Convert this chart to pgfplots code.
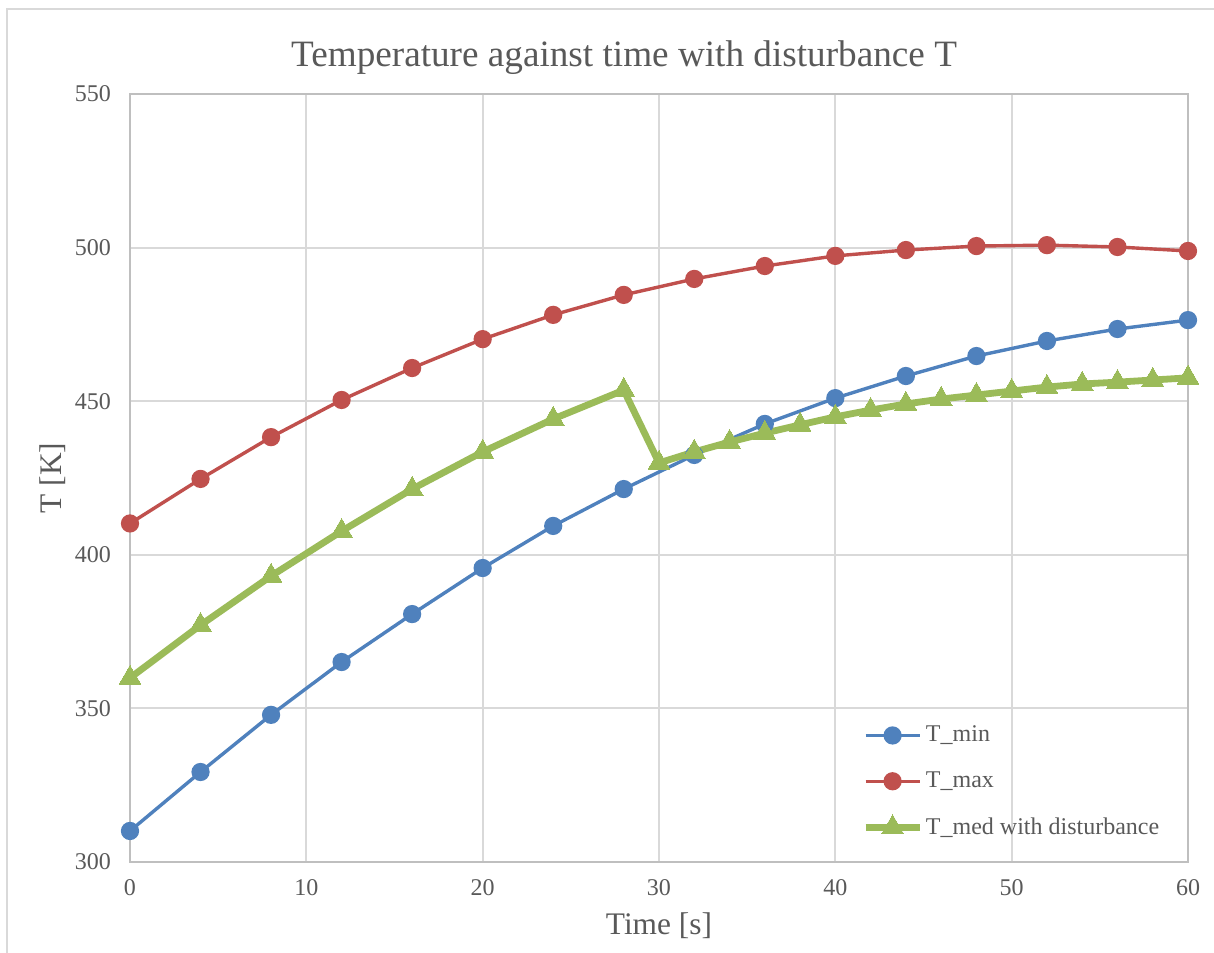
\documentclass[border=0pt]{standalone}
\usepackage{pgfplots}
\pgfplotsset{compat=1.18}
\usepackage{fontspec}
\setmainfont{Liberation Serif}
\definecolor{cblue}{HTML}{4F81BD}
\definecolor{cred}{HTML}{C0504D}
\definecolor{cgreen}{HTML}{9BBB59}
\definecolor{ctext}{HTML}{595959}
\definecolor{cgrid}{HTML}{D9D9D9}
\definecolor{caxis}{HTML}{BFBFBF}
\begin{document}
\begin{tikzpicture}
\useasboundingbox (-65pt,-45pt) rectangle (542pt,431pt);
\draw[cgrid, line width=1pt] (-61.5pt,-50pt) -- (-61.5pt,426.5pt) -- (550pt,426.5pt);
\node[ctext, font=\fontsize{18.6}{22}\selectfont] at (247pt,402pt) {Temperature against time with disturbance T};
\begin{axis}[
  at={(0pt,0pt)}, anchor=south west,
  scale only axis, width=529pt, height=384pt,
  xmin=0, xmax=60, ymin=300, ymax=550,
  xtick={0,10,...,60}, ytick={300,350,...,550},
  major tick length=0pt,
  grid=major,
  major grid style={cgrid, line width=1pt},
  axis line style={caxis, line width=1pt},
  tick label style={ctext, font=\fontsize{12}{14}\selectfont},
  /pgf/number format/assume math mode=true,
  yticklabel style={xshift=-6pt},
  xticklabel style={yshift=-5pt},
  xlabel={Time [s]}, ylabel={T [K]},
  label style={ctext, font=\fontsize{15.7}{18}\selectfont},
  xlabel style={yshift=-2pt},
  ylabel style={yshift=-2pt},
  legend style={draw=none, fill=none, at={(0.686,0.188)}, anchor=north west,
    font=\fontsize{12}{14}\selectfont, text=ctext, row sep=9.5pt,
    legend cell align=left, nodes={inner xsep=1.5pt}},
  legend image code/.code={
    \draw[mark repeat=2,mark phase=2,#1] plot coordinates {(0pt,0pt)(13.5pt,0pt)(27pt,0pt)};
  },
]
\addplot[cblue, line width=1.7pt, mark=*, mark size=3.7pt, mark options={solid}] coordinates {
(0,310.1)(4,329.3)(8,347.9)(12,365.1)(16,380.7)(20,395.7)(24,409.4)(28,421.4)(32,432.5)(36,442.6)(40,451.0)(44,458.2)(48,464.7)(52,469.6)(56,473.5)(60,476.4)};
\addlegendentry{T\_min}
\addplot[cred, line width=1.7pt, mark=*, mark size=3.7pt] coordinates {
(0,410.2)(4,424.7)(8,438.3)(12,450.4)(16,460.8)(20,470.2)(24,478.1)(28,484.6)(32,489.8)(36,494.0)(40,497.3)(44,499.2)(48,500.5)(52,500.8)(56,500.2)(60,498.9)};
\addlegendentry{T\_max}
\addplot[cgreen, line width=3.4pt, mark=triangle*, mark size=6.3pt, mark options={line width=0pt}] coordinates {
(0,359.9)(4,377.1)(8,393.1)(12,407.7)(16,421.4)(20,433.5)(24,444.2)(28,453.6)(30,429.9)(32,433.5)(34,436.7)(36,439.6)(38,442.3)(40,444.9)(42,447.1)(44,449.1)(46,450.7)(48,452.0)(50,453.3)(52,454.6)(54,455.6)(56,456.2)(58,456.9)(60,457.6)};
\addlegendentry{T\_med with disturbance}
\end{axis}
\end{tikzpicture}
\end{document}
